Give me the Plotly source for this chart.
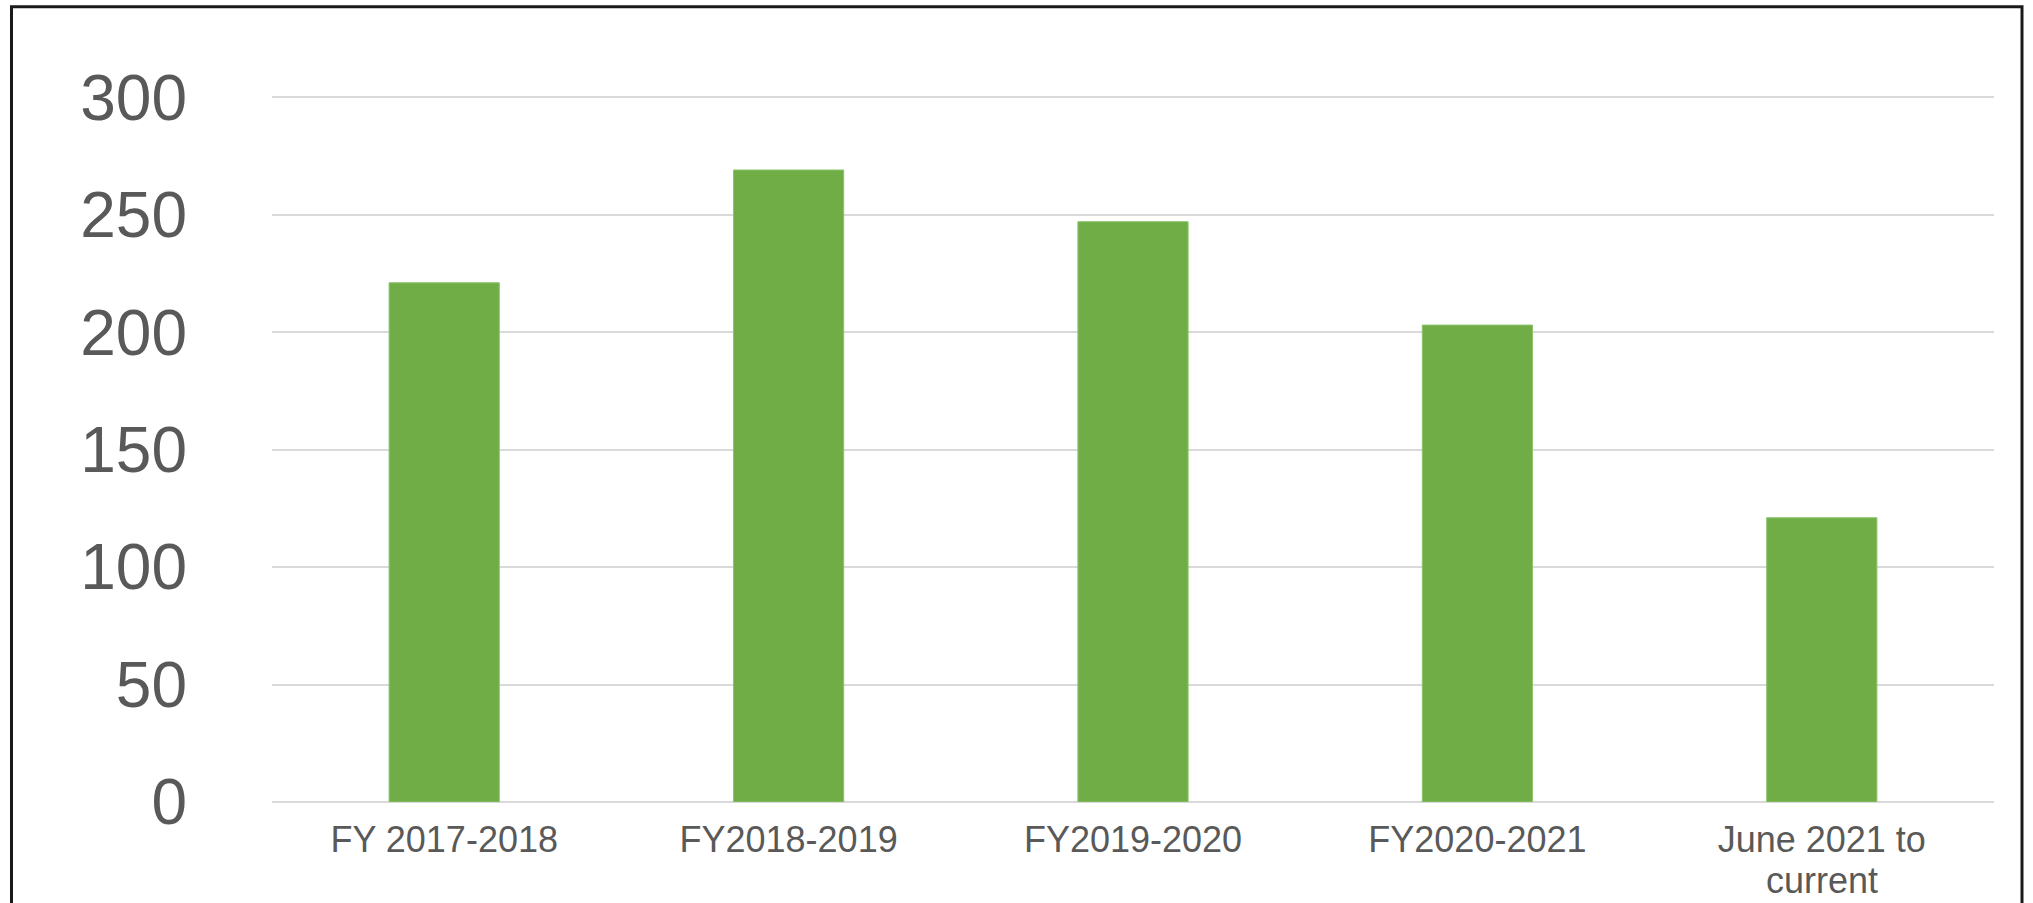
import plotly.graph_objects as go

categories = ["FY 2017-2018", "FY2018-2019", "FY2019-2020", "FY2020-2021", "June 2021 to<br>current"]
values = [221, 269, 247, 203, 121]
y_ticks = [0, 50, 100, 150, 200, 250, 300]

W, H = 2033, 903
L, R, T, B = 272, 39, 95.8, 100.5

# first line of each category as tick label; any further line drawn just below it
first_lines = [c.split("<br>")[0] for c in categories]
extra_lines = [(c, c.split("<br>")[1:]) for c in categories if "<br>" in c]

fig = go.Figure(go.Bar(
    x=categories,
    y=values,
    marker=dict(color="#70AD47", line=dict(color="#8CC46A", width=1)),
    hoverinfo="skip",
))

pw = W - L - R
ph = H - T - B

def px2paper_x(px):
    return (px - L) / pw

def px2paper_y(py):
    return (H - B - py) / ph

fig.add_shape(type="rect", xref="paper", yref="paper",
              x0=px2paper_x(11.5), x1=px2paper_x(2022),
              y0=px2paper_y(930), y1=px2paper_y(6.5),
              line=dict(color="#1a1a1a", width=3), fillcolor="rgba(0,0,0,0)", layer="above")

for cat, lines in extra_lines:
    for i, line in enumerate(lines):
        fig.add_annotation(x=cat, xref="x", y=0, yref="paper",
                           text=line, showarrow=False,
                           yanchor="middle", yshift=-78 - 36 * i,
                           font=dict(size=36, color="#595959",
                                     family="Liberation Sans, Arial, sans-serif"))

fig.update_layout(
    width=W, height=H,
    margin=dict(l=L, r=R, t=T, b=B, pad=0, autoexpand=False),
    paper_bgcolor="white", plot_bgcolor="white",
    bargap=0.68,
    showlegend=False,
    font=dict(family="Liberation Sans, Arial, sans-serif", color="#595959"),
    xaxis=dict(
        showgrid=False, showline=False, zeroline=False,
        tickmode="array", tickvals=categories, ticktext=first_lines,
        tickfont=dict(size=36, color="#595959"),
        ticks="", ticklabelstandoff=13,
        automargin=False,
    ),
    yaxis=dict(
        range=[0, 300.5], tickvals=y_ticks,
        showgrid=True, gridcolor="#D9D9D9", gridwidth=2,
        zeroline=True, zerolinecolor="#D9D9D9", zerolinewidth=2,
        showline=False, ticks="",
        tickfont=dict(size=64, color="#595959"),
        ticklabelstandoff=84,
        automargin=False,
    ),
)

fig.write_html("out.html",
               config={"displayModeBar": False},
               post_script="document.body.style.margin='0';document.body.style.overflow='hidden';")
